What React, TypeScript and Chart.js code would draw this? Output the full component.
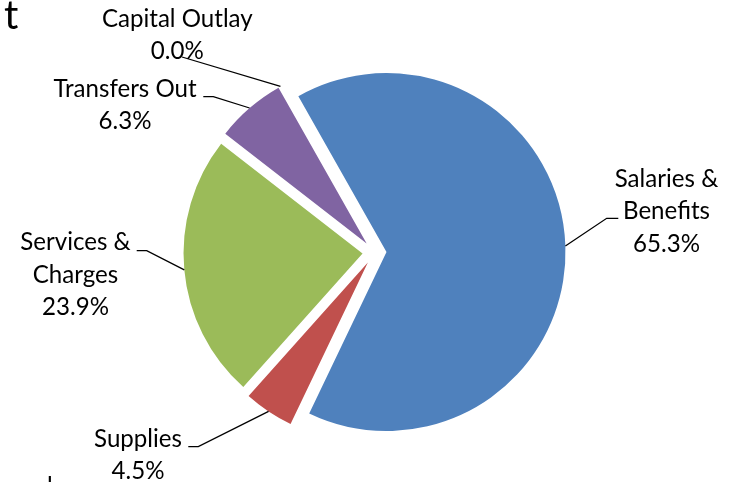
import { useEffect, useRef } from 'react';
import { Chart, registerables } from 'chart.js';

Chart.register(...registerables);

// ---- data ----
const categories = ['Salaries & Benefits', 'Supplies', 'Services & Charges', 'Transfers Out', 'Capital Outlay'];
const labelLines = [['Salaries &', 'Benefits'], ['Supplies'], ['Services &', 'Charges'], ['Transfers Out'], ['Capital Outlay']];
const shares = [65.3, 4.5, 23.9, 6.3, 0.0];
const colors = ['#4F81BD', '#C0504D', '#9BBB59', '#8064A2', '#4BACC6'];

// ---- layout (relative to pie centre) ----
const FONT = 'Lato, "Open Sans", sans-serif';
const EXPLODE = 12;
const RADIUS = 179;
const LINE_H = 32.5;
const LABEL_LAYOUT = [
  { dx: 292, dy: -65.8, lx: 243.8, ly: -34.2, stub: -11.6 },
  { dx: -236.5, dy: 194.2, lx: -186.2, ly: 194.2, stub: 10 },
  { dx: -299, dy: -2.5, lx: -237.8, ly: -1.8, stub: 10 },
  { dx: -249.5, dy: -155.8, lx: -171.2, ly: -155.8, stub: 10 },
  { dx: -197.2, dy: -225.8, lx: -192.5, ly: -195.5, stub: 0 },
];

let fontPx = 0;
function labelFontSize(ctx: CanvasRenderingContext2D) {
  if (!fontPx) {
    ctx.save();
    ctx.font = `100px ${FONT}`;
    const w = ctx.measureText('Capital Outlay').width;
    ctx.restore();
    fontPx = Math.round((100 * 151) / w * 10) / 10;
  }
  return fontPx;
}

const explodePlugin = {
  id: 'explodePie',
  beforeDatasetDraw(chart: any, args: any) {
    const ctx = chart.ctx;
    args.meta.data.forEach((arc: any) => {
      if (arc.endAngle - arc.startAngle <= 0) return;
      const mid = (arc.startAngle + arc.endAngle) / 2;
      ctx.save();
      ctx.translate(Math.cos(mid) * EXPLODE, Math.sin(mid) * EXPLODE);
      arc.draw(ctx);
      ctx.restore();
    });
    return false;
  },
  afterDatasetsDraw(chart: any) {
    const ctx = chart.ctx as CanvasRenderingContext2D;
    const meta = chart.getDatasetMeta(0);
    const size = labelFontSize(ctx);
    ctx.save();
    ctx.font = `${size}px ${FONT}`;
    ctx.fillStyle = '#000';
    ctx.textAlign = 'center';
    ctx.textBaseline = 'alphabetic';
    meta.data.forEach((arc: any, i: number) => {
      const cx = arc.x;
      const cy = arc.y;
      const L = LABEL_LAYOUT[i];
      const lines = [...labelLines[i], shares[i].toFixed(1) + '%'];
      lines.forEach((t, k) => {
        ctx.fillText(t, cx + L.dx, cy + L.dy + k * LINE_H);
      });
      // leader line
      const mid = (arc.startAngle + arc.endAngle) / 2;
      const ex = cx + Math.cos(mid) * (EXPLODE + arc.outerRadius);
      const ey = cy + Math.sin(mid) * (EXPLODE + arc.outerRadius);
      ctx.beginPath();
      ctx.strokeStyle = '#000';
      ctx.lineWidth = 1.3;
      ctx.moveTo(cx + L.lx, cy + L.ly);
      ctx.lineTo(cx + L.lx + L.stub, cy + L.ly);
      ctx.lineTo(ex, ey);
      ctx.stroke();
    });
    // cropped title / footer fragments
    ctx.textAlign = 'left';
    ctx.font = `40px ${FONT}`;
    ctx.fillText('t', 4, 29);
    ctx.font = `${size}px ${FONT}`;
    ctx.fillText('l', 47, 495);
    ctx.restore();
  },
};

export default function App() {
  const ref = useRef<HTMLCanvasElement>(null);
  useEffect(() => {
    if (!ref.current) return;
    const chart = new Chart(ref.current, {
      type: 'pie',
      data: {
        labels: categories,
        datasets: [
          {
            data: shares,
            backgroundColor: colors,
            borderWidth: 0,
          },
        ],
      },
      options: {
        responsive: false,
        animation: false,
        rotation: -29.5,
        radius: RADIUS,
        layout: { padding: { left: 13, right: 0, top: 23, bottom: 0 } },
        plugins: {
          legend: { display: false },
          tooltip: { enabled: false },
          title: { display: false },
        },
        events: [],
      },
      plugins: [explodePlugin],
    });
    return () => chart.destroy();
  }, []);
  return (
    <div style={{ position: 'absolute', left: 0, top: 0, width: 736, height: 482, background: '#fff' }}>
      <canvas ref={ref} width={736} height={482} />
    </div>
  );
}
